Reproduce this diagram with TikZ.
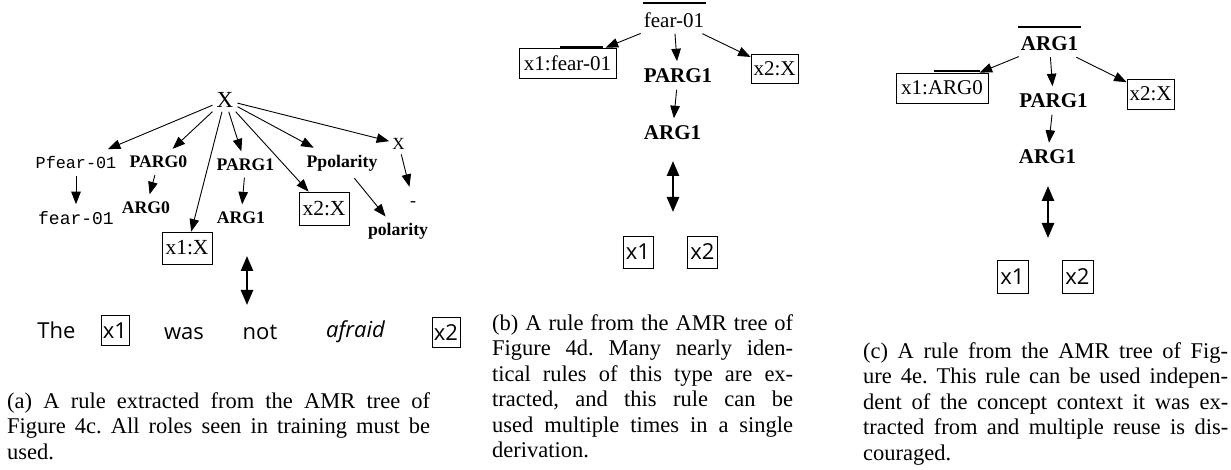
\documentclass[tikz,border=0pt]{standalone}
\usepackage{fontspec}
\setmainfont{Liberation Serif}
\setmonofont{Liberation Mono}
\newfontfamily\sentfont{Open Sans}
\usetikzlibrary{arrows.meta}
\frenchspacing
\begin{document}
\begin{tikzpicture}[x=1pt,y=-1pt,
  arr/.style={-{Triangle[length=12.5pt,width=9.5pt]}, line width=0.9pt},
  dbl/.style={{Triangle[length=15pt,width=12pt]}-{Triangle[length=15pt,width=12pt]}, line width=2.6pt},
  lbla/.style={font=\fontsize{17.7}{20}\selectfont\bfseries, inner xsep=2pt, inner ysep=7pt},
  lblb/.style={font=\fontsize{21}{24}\selectfont\bfseries, inner xsep=2pt, inner ysep=7pt},
  monotxt/.style={font=\fontsize{#1}{20}\selectfont\ttfamily, inner xsep=2pt, inner ysep=7pt},
  rmtxt/.style={font=\fontsize{#1}{24}\selectfont, inner xsep=3pt, inner ysep=5pt},
  vbox/.style={draw, line width=0.8pt, inner sep=0pt, font=\fontsize{21.5}{24}\selectfont},
  sbox/.style={draw, line width=0.8pt, inner sep=0pt, font=\fontsize{22}{24}\selectfont\sentfont},
  word/.style={font=\fontsize{22}{24}\selectfont\sentfont, inner sep=0pt},
  captxt/.style={anchor=north west, inner sep=0pt, align=justify, font=\fontsize{22.5}{25.5}\selectfont},
  ovl/.style={line width=1.5pt},
  bovl/.style={line width=2pt},
]
\useasboundingbox (0,0) rectangle (1231,470);

% ---------- (a) ----------
\node[rmtxt=23, inner sep=4pt] (aX) at (225,100) {X};
\node[monotxt=16.8] (apf) at (76,162.5) {Pfear-01};
\node[lbla] (aparg0) at (158.5,162) {PARG0};
\node[monotxt=18] (afear) at (76,218) {fear-01};
\node[lbla] (aarg0) at (146,207.5) {ARG0};
\node[vbox, minimum width=50pt, minimum height=32pt] (ax1) at (187,248) {x1:X};
\node[lbla] (aparg1) at (245.5,164.5) {PARG1};
\node[lbla] (aarg1) at (241,217.5) {ARG1};
\node[vbox, minimum width=50pt, minimum height=33pt] (ax2) at (324,208.5) {x2:X};
\node[lbla] (appol) at (342,163) {Ppolarity};
\node[rmtxt=17] (aXs) at (398.5,143.5) {X};
\node[rmtxt=18, anchor=base, text height=12pt, inner ysep=8pt] (aneg) at (413,207) {-};
\node[lbla, anchor=base] (apol) at (398,236) {polarity};

\draw[arr] (aX) -- (apf);
\draw[arr] (aX) -- (aparg0);
\draw[arr] (aX) -- (ax1);
\draw[arr] (aX) -- (aparg1);
\draw[arr] (aX) -- (ax2);
\draw[arr] (aX) -- (appol);
\draw[arr] (aX) -- (aXs);
\draw[arr] (apf) -- (afear);
\draw[arr] (aparg0) -- (aarg0);
\draw[arr] (aparg1) -- (aarg1);
\draw[arr] (appol) -- (apol);
\draw[arr] (aXs) -- (aneg);

\coordinate (ada1) at (247,256);
\coordinate (ada2) at (247,305);
\draw[dbl] (ada1) -- (ada2);

\node[word, anchor=base] (wthe) at (56.5,338) {The};
\node[sbox, anchor=base, minimum width=28pt, minimum height=30pt] (wx1) at (115,338) {x1};
\node[word, anchor=base] (wwas) at (184,339) {was};
\node[word, anchor=base] (wnot) at (260,339) {not};
\node[word, anchor=base] (wafraid) at (355.5,337) {\itshape afraid};
\node[sbox, anchor=base, minimum width=28pt, minimum height=30pt] (wx2) at (446,340) {x2};

\node[captxt, text width=423pt] (capa) at (7,392.4) {(a) A rule extracted from the AMR tree of\linebreak Figure 4c. All roles seen in training must be\linebreak used.};

% ---------- (b) ----------
\node[rmtxt=21, inner ysep=6pt] (broot) at (674,20) {fear-01};
\draw[ovl] (643,3) -- (706,3);
\node[vbox, font=\fontsize{21}{24}\selectfont, minimum width=97pt, minimum height=30pt] (bx1) at (567.5,63) {x1:fear-01};
\draw[bovl] (560,47) -- (603,47);
\node[lblb] (bparg1) at (678,75.5) {PARG1};
\node[lblb] (barg1) at (672.5,132.5) {ARG1};
\node[vbox, font=\fontsize{21}{24}\selectfont, minimum width=47pt, minimum height=29pt] (bx2) at (774.5,68.5) {x2:X};
\draw[arr] (broot) -- (bx1);
\draw[arr] (broot) -- (bparg1);
\draw[arr] (broot) -- (bx2);
\draw[arr] (bparg1) -- (barg1);

\coordinate (bda1) at (673,161);
\coordinate (bda2) at (673,212);
\draw[dbl] (bda1) -- (bda2);

\node[sbox, minimum width=30pt, minimum height=32pt] (bw1) at (638,252) {x1};
\node[sbox, minimum width=30pt, minimum height=32pt] (bw2) at (702.5,252) {x2};

\node[captxt, text width=301pt] (capb) at (492,314.4) {(b) A rule from the AMR tree of\linebreak Figure 4d. Many nearly iden-\linebreak tical rules of this type are ex-\linebreak tracted, and this rule can be\linebreak used multiple times in a single\linebreak derivation.};

% ---------- (c) ----------
\node[lblb, inner ysep=6pt] (croot) at (1049.5,44) {ARG1};
\draw[ovl] (1018,27) -- (1081,27);
\node[vbox, font=\fontsize{21}{24}\selectfont, minimum width=92pt, minimum height=30pt] (cx1) at (942,88) {x1:ARG0};
\draw[bovl] (934,71) -- (980,71);
\node[lblb] (cparg1) at (1053.5,100.5) {PARG1};
\node[lblb] (carg1) at (1047.5,157) {ARG1};
\node[vbox, font=\fontsize{21}{24}\selectfont, minimum width=47pt, minimum height=30pt] (cx2) at (1150.5,94) {x2:X};
\draw[arr] (croot) -- (cx1);
\draw[arr] (croot) -- (cparg1);
\draw[arr] (croot) -- (cx2);
\draw[arr] (cparg1) -- (carg1);

\coordinate (cda1) at (1048,186);
\coordinate (cda2) at (1048,238);
\draw[dbl] (cda1) -- (cda2);

\node[sbox, minimum width=31pt, minimum height=33pt] (cw1) at (1012.5,276.5) {x1};
\node[sbox, minimum width=31pt, minimum height=33pt] (cw2) at (1077.5,276.5) {x2};

\node[captxt, text width=365pt] (capc) at (863,342.4) {(c) A rule from the AMR tree of Fig-\linebreak ure 4e. This rule can be used indepen-\linebreak dent of the concept context it was ex-\linebreak tracted from and multiple reuse is dis-\linebreak couraged.};
\end{tikzpicture}
\end{document}
